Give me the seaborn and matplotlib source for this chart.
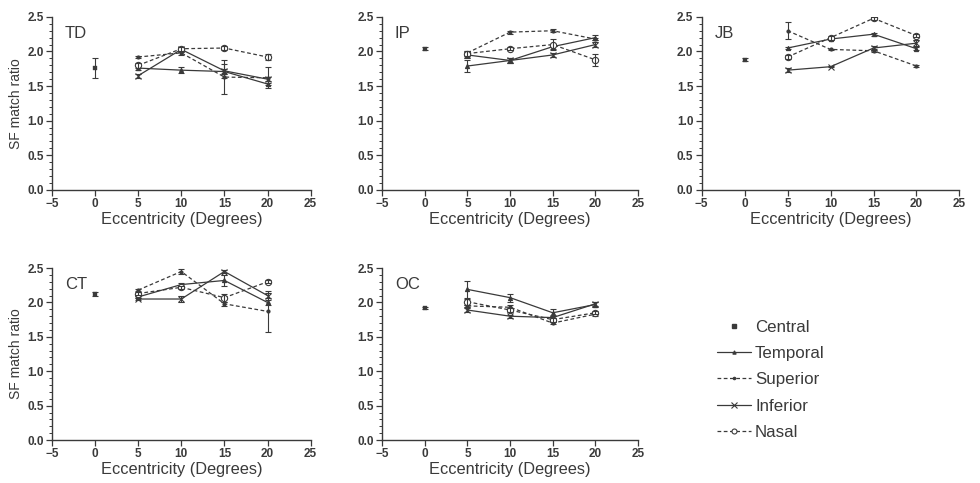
import numpy as np
import pandas as pd
import seaborn as sns
import matplotlib.pyplot as plt
from matplotlib.lines import Line2D
from matplotlib.ticker import MultipleLocator, FormatStrFormatter

# Data
ECC = [5, 10, 15, 20]
SERIES = ["Temporal", "Superior", "Inferior", "Nasal"]
PANELS = ["TD", "IP", "JB", "CT", "OC"]

central = {"TD": 1.76, "IP": 2.04, "JB": 1.88, "CT": 2.12, "OC": 1.92}
central_err = {"TD": 0.15, "IP": 0.02, "JB": 0.02, "CT": 0.03, "OC": 0.01}

td_vals = {"Temporal": [1.76, 1.73, 1.71, 1.53], "Superior": [1.92, 1.98, 1.63, 1.62],
           "Inferior": [1.65, 2.03, 1.72, 1.60], "Nasal": [1.80, 2.04, 2.05, 1.92]}
td_err = {"Temporal": [0.03, 0.04, 0.03, 0.02], "Superior": [0.02, 0.03, 0.25, 0.15],
          "Inferior": [0.03, 0.04, 0.1, 0.03], "Nasal": [0.04, 0.03, 0.03, 0.05]}

ip_vals = {"Temporal": [1.79, 1.87, 2.07, 2.20], "Superior": [1.98, 2.28, 2.30, 2.18],
           "Inferior": [1.95, 1.87, 1.95, 2.10], "Nasal": [1.97, 2.04, 2.10, 1.88]}
ip_err = {"Temporal": [0.09, 0.04, 0.04, 0.04], "Superior": [0.03, 0.02, 0.02, 0.02],
          "Inferior": [0.04, 0.03, 0.03, 0.03], "Nasal": [0.03, 0.02, 0.08, 0.09]}

jb_vals = {"Temporal": [2.05, 2.18, 2.25, 2.04], "Superior": [2.30, 2.03, 2.01, 1.79],
           "Inferior": [1.73, 1.78, 2.05, 2.12], "Nasal": [1.92, 2.20, 2.48, 2.23]}
jb_err = {"Temporal": [0.02, 0.02, 0.02, 0.02], "Superior": [0.12, 0.01, 0.02, 0.01],
          "Inferior": [0.03, 0.01, 0.03, 0.04], "Nasal": [0.03, 0.03, 0.02, 0.02]}

ct_vals = {"Temporal": [2.08, 2.26, 2.32, 2.00], "Superior": [2.18, 2.45, 1.98, 1.87],
           "Inferior": [2.05, 2.05, 2.45, 2.10], "Nasal": [2.13, 2.22, 2.07, 2.30]}
ct_err = {"Temporal": [0.02, 0.03, 0.08, 0.03], "Superior": [0.02, 0.03, 0.03, 0.30],
          "Inferior": [0.02, 0.04, 0.02, 0.04], "Nasal": [0.02, 0.02, 0.06, 0.02]}

oc_vals = {"Temporal": [2.19, 2.07, 1.85, 1.97], "Superior": [1.95, 1.93, 1.70, 1.83],
           "Inferior": [1.89, 1.80, 1.78, 1.98], "Nasal": [2.01, 1.89, 1.75, 1.85]}
oc_err = {"Temporal": [0.12, 0.06, 0.05, 0.03], "Superior": [0.02, 0.03, 0.02, 0.02],
          "Inferior": [0.03, 0.02, 0.02, 0.03], "Nasal": [0.04, 0.03, 0.03, 0.02]}

vals = {"TD": td_vals, "IP": ip_vals, "JB": jb_vals, "CT": ct_vals, "OC": oc_vals}
errs = {"TD": td_err, "IP": ip_err, "JB": jb_err, "CT": ct_err, "OC": oc_err}

# Styles
INK = "#3a3a3a"
STYLE = {
    "Temporal": dict(ls="-", marker="^", ms=3, mfc=INK),
    "Superior": dict(ls=(0, (3, 2)), marker="o", ms=2.2, mfc=INK),
    "Inferior": dict(ls="-", marker="x", ms=5, mfc=INK),
    "Nasal": dict(ls=(0, (3, 2)), marker="o", ms=4.5, mfc="white"),
}

sns.set_style("ticks")
plt.rcParams["font.family"] = ["Liberation Sans", "DejaVu Sans"]

fig = plt.figure(figsize=(9.8, 4.83), dpi=100)
positions = {
    "TD": [0.053, 0.607, 0.264, 0.358],
    "IP": [0.390, 0.607, 0.261, 0.358],
    "JB": [0.716, 0.607, 0.263, 0.358],
    "CT": [0.053, 0.089, 0.264, 0.356],
    "OC": [0.390, 0.089, 0.261, 0.356],
}

for p in PANELS:
    ax = fig.add_axes(positions[p])
    for s in SERIES:
        df = pd.DataFrame({"ecc": ECC, "ratio": vals[p][s]})
        st = STYLE[s]
        sns.lineplot(data=df, x="ecc", y="ratio", ax=ax, color=INK, lw=0.9,
                     linestyle=st["ls"], marker=st["marker"], markersize=st["ms"],
                     markerfacecolor=st["mfc"], markeredgecolor=INK, markeredgewidth=0.8)
        ax.errorbar(ECC, vals[p][s], yerr=errs[p][s], fmt="none", ecolor=INK,
                    elinewidth=0.8, capsize=2, capthick=0.8)
    cdf = pd.DataFrame({"ecc": [0], "ratio": [central[p]]})
    sns.scatterplot(data=cdf, x="ecc", y="ratio", ax=ax, marker="s", s=10,
                    color=INK, edgecolor=INK, zorder=3)
    ax.errorbar([0], [central[p]], yerr=[central_err[p]], fmt="none", ecolor=INK,
                elinewidth=0.8, capsize=2, capthick=0.8)

    ax.set_xlim(-5, 25)
    ax.set_ylim(0, 2.5)
    ax.set_xticks(range(-5, 30, 5))
    ax.yaxis.set_major_locator(MultipleLocator(0.5))
    ax.yaxis.set_minor_locator(MultipleLocator(0.1))
    ax.yaxis.set_major_formatter(FormatStrFormatter("%.1f"))
    ax.tick_params(axis="both", which="major", labelsize=8.5, colors=INK,
                   length=4, width=0.9, direction="out", pad=2)
    ax.tick_params(axis="y", which="minor", length=2, width=0.7, colors=INK)
    for lab in ax.get_xticklabels() + ax.get_yticklabels():
        lab.set_fontweight("bold")
    for sp in ["left", "bottom"]:
        ax.spines[sp].set_color(INK)
        ax.spines[sp].set_linewidth(1.0)
    sns.despine(ax=ax)
    ax.set_xlabel("Eccentricity (Degrees)", fontsize=11.8, color=INK, labelpad=1)
    if p in ("TD", "CT"):
        ax.set_ylabel("SF match ratio", fontsize=10, color=INK, labelpad=3)
    else:
        ax.set_ylabel("")
    ax.text(0.05, 0.95, p, transform=ax.transAxes, fontsize=12, color=INK,
            ha="left", va="top")

# Legend
handles = [Line2D([], [], ls="none", marker="s", ms=3, color=INK)]
for s in SERIES:
    st = STYLE[s]
    handles.append(Line2D([], [], color=INK, lw=0.9, ls=st["ls"], marker=st["marker"],
                          ms=st["ms"] * 0.8, mfc=st["mfc"], mec=INK, mew=0.8))
leg = fig.legend(handles, ["Central"] + SERIES, loc="upper left",
                 bbox_to_anchor=(0.716, 0.369), frameon=False, fontsize=12.2,
                 handlelength=2.0, handletextpad=0.25, labelspacing=0.66)
for t in leg.get_texts():
    t.set_color(INK)

fig.savefig("out.png", dpi=100)
